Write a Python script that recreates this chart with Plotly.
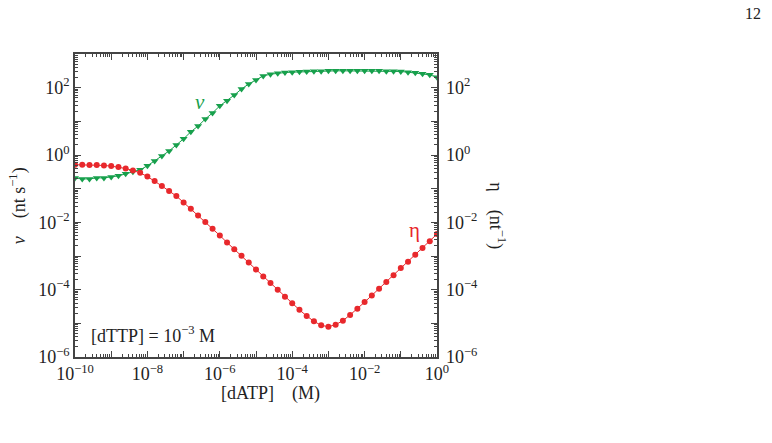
import numpy as np
import plotly.graph_objects as go

# x: log10 [dATP] (M), 5 points per decade
log_datp = [round(-10 + 0.2 * i, 1) for i in range(51)]

# log10 v (nt s^-1)
log_v = [-0.68, -0.71, -0.71, -0.68, -0.68, -0.65, -0.62, -0.56, -0.50, -0.44,
         -0.32, -0.18, -0.03, 0.12, 0.30, 0.48, 0.69, 0.86, 1.07, 1.25,
         1.46, 1.61, 1.78, 1.96, 2.11, 2.23, 2.35, 2.40, 2.43, 2.45,
         2.46, 2.47, 2.48, 2.49, 2.49, 2.50, 2.50, 2.50, 2.50, 2.50,
         2.50, 2.50, 2.50, 2.49, 2.49, 2.48, 2.46, 2.44, 2.41, 2.38,
         2.31]

# log10 eta (nt^-1)
log_eta = [-0.29, -0.29, -0.30, -0.30, -0.31, -0.33, -0.36, -0.40, -0.46, -0.53,
           -0.64, -0.77, -0.92, -1.07, -1.22, -1.41, -1.60, -1.80, -1.99, -2.19,
           -2.39, -2.60, -2.80, -2.99, -3.19, -3.40, -3.61, -3.80, -4.00, -4.21,
           -4.40, -4.60, -4.78, -4.94, -5.06, -5.10, -5.04, -4.92, -4.75, -4.57,
           -4.37, -4.17, -3.97, -3.77, -3.57, -3.36, -3.17, -2.96, -2.76, -2.56,
           -2.35]

x_decades = list(range(-10, 1))
y_decades = list(range(-6, 4))
x_label_decades = [-10, -8, -6, -4, -2, 0]
y_label_decades = [-6, -4, -2, 0, 2]

GREEN = "#17a04c"
RED = "#e8282c"
FONT = "Liberation Serif"
AXC = "#444444"
TXT = "#222222"


def sup_label(d):
    s = str(d).replace("-", "\u2212")
    return f"10<sup>{s}</sup>"


def major(decs, labeled):
    vals = [10.0 ** d for d in decs]
    text = [sup_label(d) if d in labeled else "" for d in decs]
    return vals, text


def minor_vals(decs):
    return [k * 10.0 ** d for d in decs[:-1] for k in range(2, 10)]


xv = [10 ** v for v in log_datp]
vv = [10 ** v for v in log_v]
ev = [10 ** v for v in log_eta]

fig = go.Figure()
fig.add_trace(go.Scatter(x=xv, y=vv, mode="lines+markers",
                         line=dict(color=GREEN, width=1),
                         marker=dict(symbol="triangle-down", size=7, color=GREEN),
                         showlegend=False))
fig.add_trace(go.Scatter(x=xv, y=ev, mode="lines+markers", yaxis="y2",
                         line=dict(color=RED, width=1),
                         marker=dict(symbol="circle", size=6, color=RED),
                         showlegend=False))

xt, xtt = major(x_decades, x_label_decades)
yt, ytt = major(y_decades, y_label_decades)
tickfont = dict(family=FONT, size=18, color=TXT)

fig.update_layout(
    width=772, height=443,
    margin=dict(l=75, r=335, t=54, b=86),
    paper_bgcolor="white", plot_bgcolor="white",
    font=dict(family=FONT, color=TXT),
    xaxis=dict(type="log", range=[-10, 0], tickmode="array", tickvals=xt, ticktext=xtt,
               ticks="inside", ticklen=6, tickwidth=1, tickcolor=AXC,
               showline=True, linecolor=AXC, linewidth=1.5, mirror="ticks",
               showgrid=False, zeroline=False, tickfont=tickfont,
               minor=dict(tickmode="array", tickvals=minor_vals(x_decades), ticks="inside",
                          ticklen=3, tickcolor=AXC, showgrid=False)),
    yaxis=dict(type="log", range=[-6, 3], tickmode="array", tickvals=yt, ticktext=ytt,
               ticks="inside", ticklen=6, tickwidth=1, tickcolor=AXC,
               showline=True, linecolor=AXC, linewidth=1.5, mirror="ticks",
               showgrid=False, zeroline=False, tickfont=tickfont,
               minor=dict(tickmode="array", tickvals=minor_vals(y_decades), ticks="inside",
                          ticklen=3, tickcolor=AXC, showgrid=False)),
    yaxis2=dict(type="log", range=[-6, 3], overlaying="y", side="right",
                tickmode="array", tickvals=yt, ticktext=ytt, ticks="",
                ticklabelstandoff=8,
                showline=False, showgrid=False, zeroline=False, tickfont=tickfont),
)

def ann(text, x, y, size, color=TXT, ref="paper", angle=0, xanchor="center"):
    return dict(text=text, x=x, y=y, xref="x" if ref == "data" else "paper",
                yref="y" if ref == "data" else "paper", showarrow=False,
                textangle=angle, xanchor=xanchor, yanchor="middle",
                font=dict(family=FONT, size=size, color=color))

annots = [
    ann("<i>v</i>", -6.55, 1.58, 21, GREEN, ref="data"),
    ann("η", -0.62, -2.22, 21, RED, ref="data"),
    ann("[dTTP] = 10<sup>\u22123</sup> M", -9.6, -5.34, 18, ref="data", xanchor="left"),
    ann("[dATP]    (M)", 0.541, -0.119, 18),
    ann("<i>v</i>    (nt s<sup>\u22121</sup>)", -0.157, 0.498, 18, angle=-90),
    ann("η    (nt<sup>\u22121</sup>)", 1.165, 0.465, 18, angle=90),
    ann("12", 1.873, 1.135, 16),
]
fig.update_layout(annotations=annots)

fig.write_html("out.html")
